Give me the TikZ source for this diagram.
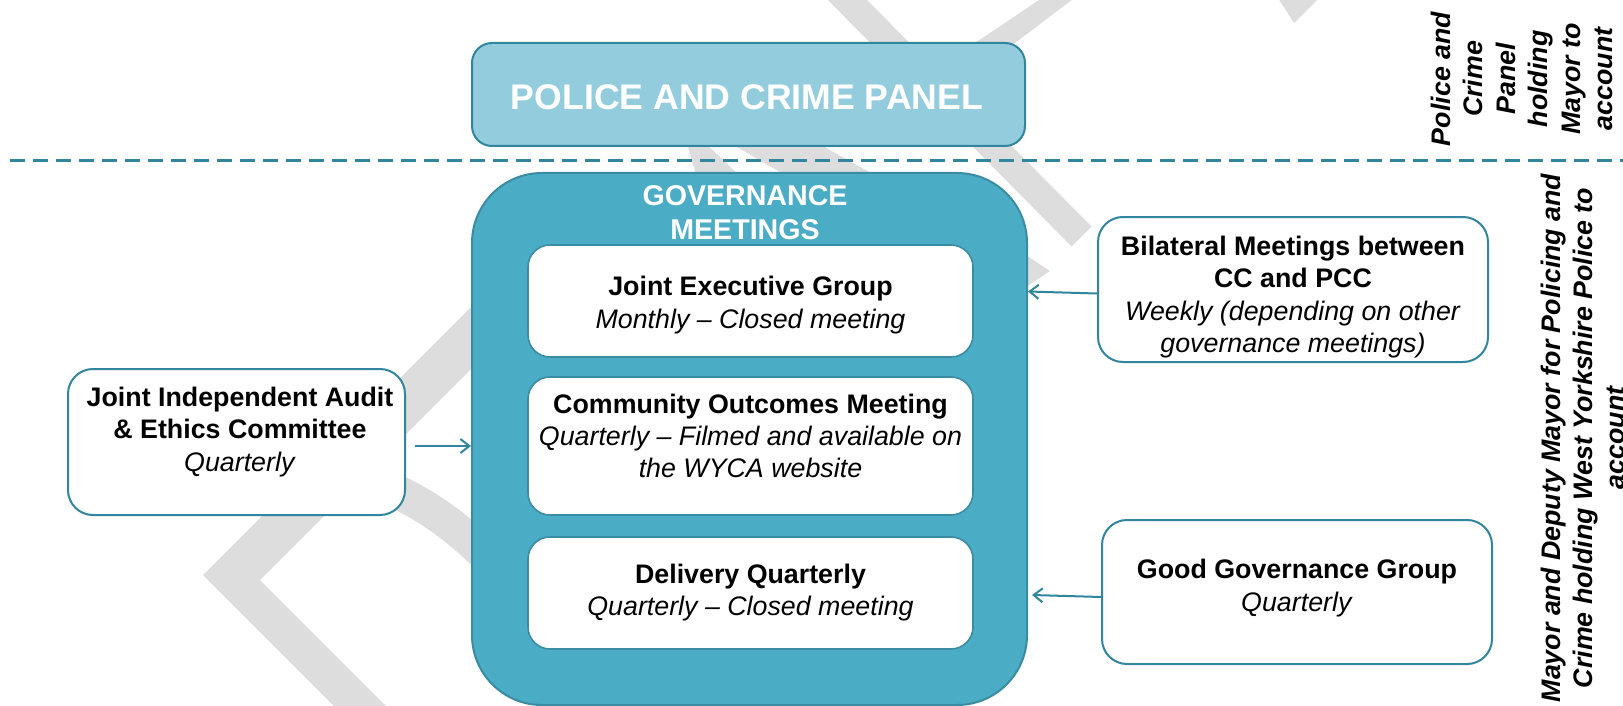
\documentclass[tikz,border=0pt]{standalone}
\usepackage{fontspec}
\setmainfont{Liberation Sans}
\usetikzlibrary{arrows.meta,calc}
\definecolor{panelfill}{RGB}{147,205,221}
\definecolor{tealline}{RGB}{49,133,156}
\definecolor{govfill}{RGB}{75,172,198}
\definecolor{govline}{RGB}{58,140,162}
\definecolor{wm}{RGB}{221,221,221}
\begin{document}
\begin{tikzpicture}[x=0.5pt,y=-0.5pt,
  boxbase/.style={rectangle, inner sep=0pt, line width=1pt},
  panelbox/.style={boxbase, draw=tealline, fill=panelfill, rounded corners=10pt},
  govbox/.style={boxbase, draw=govline, fill=govfill, rounded corners=35pt},
  innerbox/.style={boxbase, draw=govline, fill=white, rounded corners=11pt, line width=0.8pt},
  sidebox/.style={boxbase, draw=tealline, fill=white, rounded corners=12.5pt},
  txt/.style={inner sep=0pt, align=center, font=\fontsize{13.4}{16.2}\selectfont},
  headtxt/.style={inner sep=0pt, align=center, text=white, font=\bfseries\fontsize{14.3}{17}\selectfont},
  vtext/.style={inner sep=0pt, align=center, rotate=90, font=\bfseries\itshape\fontsize{13.4}{16.2}\selectfont},
  arr/.style={draw=tealline, line width=1pt, -{Straight Barb[length=4.5pt,width=7pt]}}
]
\useasboundingbox (0,0) rectangle (1623,706);
\begin{scope}
\clip (0,0) rectangle (1623,706);
% watermark pieces
\fill[wm] (203,575) -- (490,288) -- (490,350) -- (260,580) -- (400,720) -- (348,720) -- cycle;
\draw[wm, line width=17pt] (330,470) .. controls (400,485) and (450,515) .. (510,580);
\fill[wm] (823,-5) -- (862,-5) -- (1091.5,226.5) -- (1071.5,246.5) -- cycle;
\fill[wm] (1045,-4) -- (1077,-4) -- (940,100) -- (890,100) -- cycle;
\fill[wm] (1276,-5) -- (1322,-5) -- (1294,23) -- cycle;
\fill[wm] (686,140) -- (702,140) -- (742,178) -- (697,178) -- cycle;
\fill[wm] (725,140) -- (812,140) -- (880,178) -- (790,178) -- cycle;
\fill[wm] (1000,238) -- (1050,271) -- (1000,304) -- cycle;

% dashed separator
\coordinate (dl) at (10,161);
\coordinate (dr) at (1623,161);
\draw[tealline, line width=1.5pt, dash pattern=on 7.5pt off 4pt] (dl) -- (dr);

% boxes
\node[panelbox, minimum width=276.5pt, minimum height=51.5pt] (panel) at (748.5,94.5) {};
\node[govbox, minimum width=277.5pt, minimum height=266pt] (gov) at (749.5,439) {};
\node[innerbox, minimum width=222.5pt, minimum height=56pt] (jeg) at (750.5,301) {};
\node[innerbox, minimum width=222.5pt, minimum height=69pt] (com) at (750.5,446) {};
\node[innerbox, minimum width=222.5pt, minimum height=56pt] (dq) at (750.5,593) {};
\node[sidebox, minimum width=168.5pt, minimum height=73pt] (audit) at (236.5,442) {};
\node[sidebox, minimum width=195pt, minimum height=72.5pt] (bilat) at (1293,289.5) {};
\node[sidebox, minimum width=195pt, minimum height=72pt] (gg) at (1297,592) {};

% texts
\node[inner sep=0pt, text=white, font=\bfseries\fontsize{17.8}{20}\selectfont] (panelt) at (747,97) {POLICE AND CRIME PANEL};
\node[headtxt] (govt) at (745,213) {GOVERNANCE\\MEETINGS};
\node[txt] (jegt) at (750.5,305) {\textbf{Joint Executive Group}\\\textit{Monthly – Closed meeting}};
\node[txt] (comt) at (750.5,436) {\textbf{Community Outcomes Meeting}\\\textit{Quarterly – Filmed and available on}\\\textit{the WYCA website}};
\node[txt] (dqt) at (750.5,592.5) {\textbf{Delivery Quarterly}\\\textit{Quarterly – Closed meeting}};
\node[txt] (auditt) at (240,432) {\textbf{Joint Independent Audit}\\\textbf{\& Ethics Committee}\\\textit{Quarterly}};
\node[txt] (bilatt) at (1293,297) {\textbf{Bilateral Meetings between}\\\textbf{CC and PCC}\\\textit{Weekly (depending on other}\\\textit{governance meetings)}};
\node[txt] (ggt) at (1297,588) {\textbf{Good Governance Group}\\\textit{Quarterly}};

% vertical texts
\node[vtext] (pcp) at (1522,79) {Police and\\Crime\\Panel\\holding\\Mayor to\\account};
\node[vtext] (mdm) at (1583,438) {Mayor and Deputy Mayor for Policing and\\Crime holding West Yorkshire Police to\\account};

% connectors
\draw[arr] ([xshift=4.5pt,yshift=-2pt]audit.east) -- ([yshift=-2pt]audit.east -| gov.west);
\draw[arr] ([yshift=-2pt]bilat.west) -- ([yshift=-1pt]bilat.west -| gov.east);
\draw[arr] ([yshift=-2.5pt]gg.west) -- ([xshift=2pt,yshift=-1.5pt]gg.west -| gov.east);
\end{scope}
\end{tikzpicture}
\end{document}
